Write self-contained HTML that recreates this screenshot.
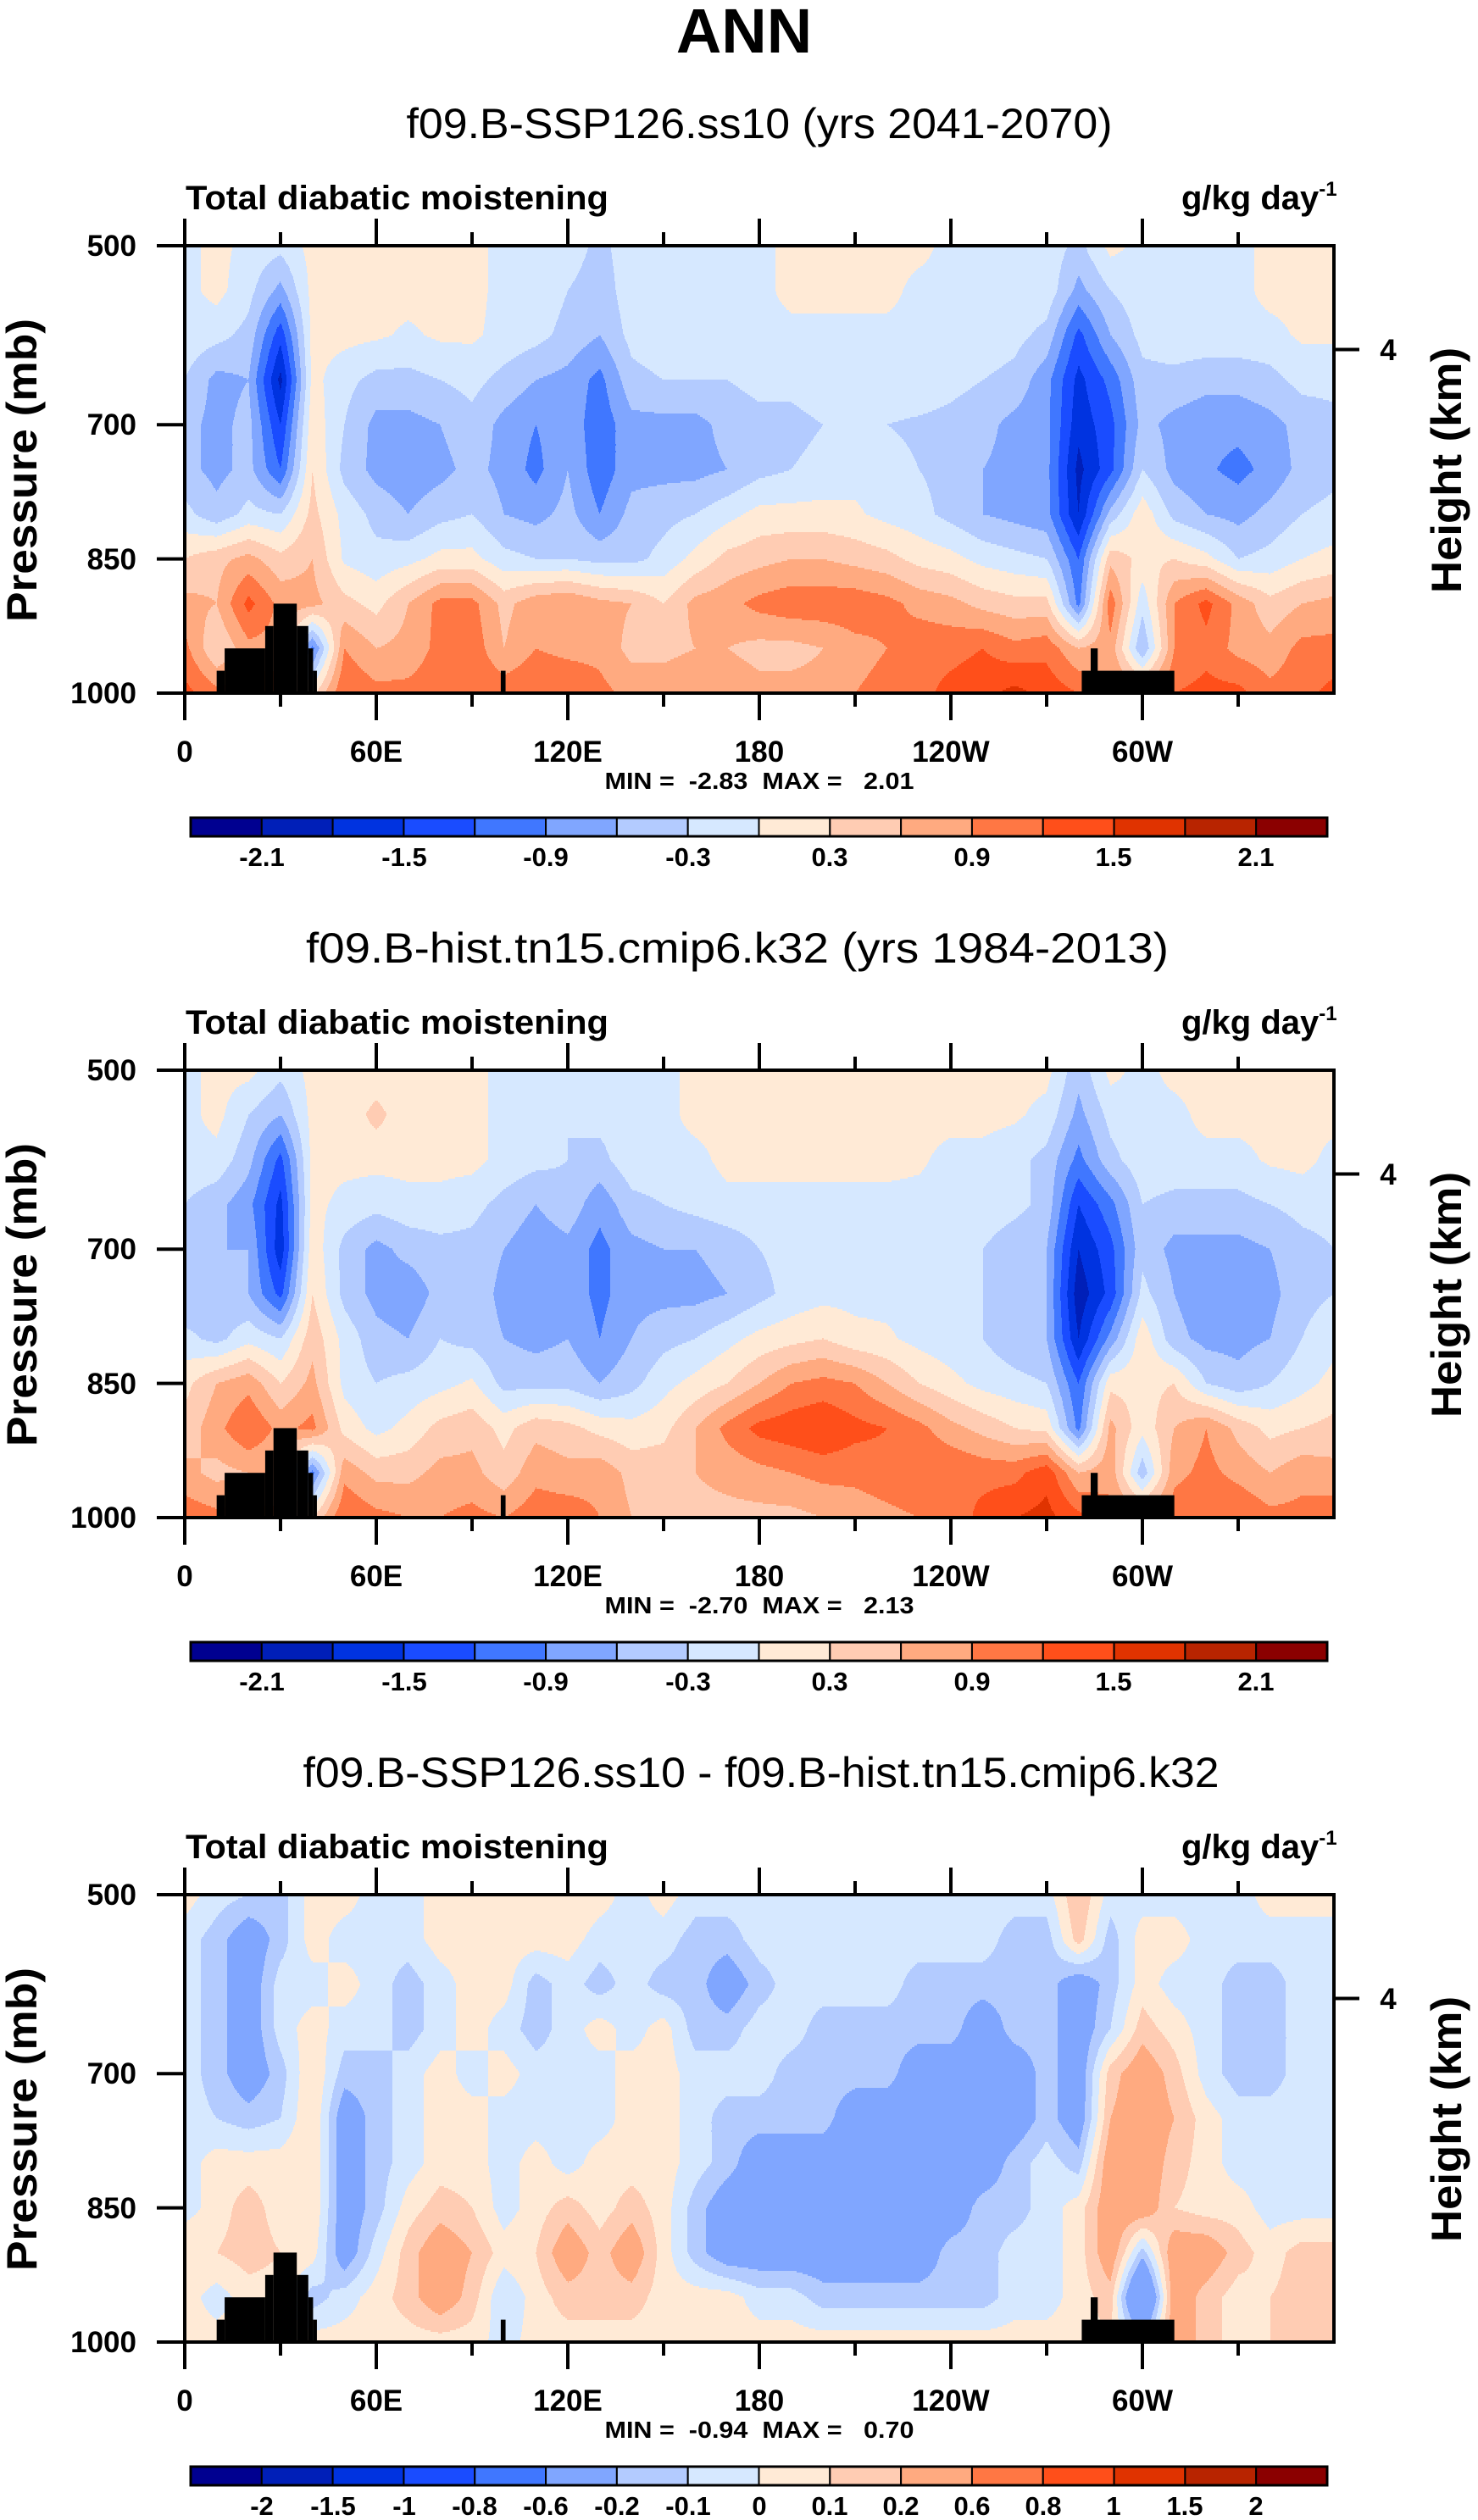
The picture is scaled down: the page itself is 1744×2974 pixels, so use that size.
<!DOCTYPE html>
<html><head><meta charset="utf-8"><title>ANN Total diabatic moistening</title>
<style>
html,body{margin:0;padding:0;background:#fff;}
svg{display:block;}
text{font-family:"Liberation Sans",Arial,sans-serif;fill:#000;}
.b{font-weight:bold;}
</style></head>
<body>
<svg id="fig" xmlns="http://www.w3.org/2000/svg" width="1744" height="2974" viewBox="0 0 1744 2974">
<rect x="0" y="0" width="1744" height="2974" fill="#fff"/>
<text x="878" y="62" font-size="74" class="b" text-anchor="middle">ANN</text>

<g id="panel0">
<text x="896" y="163" font-size="50" text-anchor="middle" textLength="833" lengthAdjust="spacingAndGlyphs">f09.B-SSP126.ss10 (yrs 2041-2070)</text>
<text x="219" y="247" font-size="40" class="b" textLength="499" lengthAdjust="spacingAndGlyphs">Total diabatic moistening</text>
<text x="1394" y="247" font-size="40" class="b">g/kg day<tspan dy="-16" font-size="24">-1</tspan></text>
<g class="field"></g>
<g class="topo"></g>
<g class="axes"></g>
<text x="161" y="302" font-size="35" class="b" text-anchor="end">500</text>
<text x="161" y="513" font-size="35" class="b" text-anchor="end">700</text>
<text x="161" y="672" font-size="35" class="b" text-anchor="end">850</text>
<text x="161" y="830" font-size="35" class="b" text-anchor="end">1000</text>
<text x="1638" y="425" font-size="35" class="b" text-anchor="middle">4</text>
<text transform="translate(43,555) rotate(-90)" font-size="50" class="b" text-anchor="middle" textLength="358" lengthAdjust="spacingAndGlyphs">Pressure (mb)</text>
<text transform="translate(1724,555) rotate(-90)" font-size="50" class="b" text-anchor="middle" textLength="290" lengthAdjust="spacingAndGlyphs">Height (km)</text>
<text x="218" y="899" font-size="35" class="b" text-anchor="middle">0</text>
<text x="444" y="899" font-size="35" class="b" text-anchor="middle">60E</text>
<text x="670" y="899" font-size="35" class="b" text-anchor="middle">120E</text>
<text x="896" y="899" font-size="35" class="b" text-anchor="middle">180</text>
<text x="1122" y="899" font-size="35" class="b" text-anchor="middle">120W</text>
<text x="1348" y="899" font-size="35" class="b" text-anchor="middle">60W</text>
<text x="896" y="931" font-size="28" class="b" text-anchor="middle" textLength="365" lengthAdjust="spacingAndGlyphs" xml:space="preserve">MIN =  -2.83  MAX =   2.01</text>
<g class="cbar"></g>
<g class="cbarlab" font-size="31">
<text x="309" y="1022" class="b" text-anchor="middle">-2.1</text>
<text x="477" y="1022" class="b" text-anchor="middle">-1.5</text>
<text x="644" y="1022" class="b" text-anchor="middle">-0.9</text>
<text x="812" y="1022" class="b" text-anchor="middle">-0.3</text>
<text x="979" y="1022" class="b" text-anchor="middle">0.3</text>
<text x="1147" y="1022" class="b" text-anchor="middle">0.9</text>
<text x="1314" y="1022" class="b" text-anchor="middle">1.5</text>
<text x="1482" y="1022" class="b" text-anchor="middle">2.1</text>
</g>
</g>

<g id="panel1" transform="translate(0,973)">
<text x="870" y="163" font-size="50" text-anchor="middle" textLength="1018" lengthAdjust="spacingAndGlyphs">f09.B-hist.tn15.cmip6.k32 (yrs 1984-2013)</text>
<text x="219" y="247" font-size="40" class="b" textLength="499" lengthAdjust="spacingAndGlyphs">Total diabatic moistening</text>
<text x="1394" y="247" font-size="40" class="b">g/kg day<tspan dy="-16" font-size="24">-1</tspan></text>
<g class="field"></g>
<g class="topo"></g>
<g class="axes"></g>
<text x="161" y="302" font-size="35" class="b" text-anchor="end">500</text>
<text x="161" y="513" font-size="35" class="b" text-anchor="end">700</text>
<text x="161" y="672" font-size="35" class="b" text-anchor="end">850</text>
<text x="161" y="830" font-size="35" class="b" text-anchor="end">1000</text>
<text x="1638" y="425" font-size="35" class="b" text-anchor="middle">4</text>
<text transform="translate(43,555) rotate(-90)" font-size="50" class="b" text-anchor="middle" textLength="358" lengthAdjust="spacingAndGlyphs">Pressure (mb)</text>
<text transform="translate(1724,555) rotate(-90)" font-size="50" class="b" text-anchor="middle" textLength="290" lengthAdjust="spacingAndGlyphs">Height (km)</text>
<text x="218" y="899" font-size="35" class="b" text-anchor="middle">0</text>
<text x="444" y="899" font-size="35" class="b" text-anchor="middle">60E</text>
<text x="670" y="899" font-size="35" class="b" text-anchor="middle">120E</text>
<text x="896" y="899" font-size="35" class="b" text-anchor="middle">180</text>
<text x="1122" y="899" font-size="35" class="b" text-anchor="middle">120W</text>
<text x="1348" y="899" font-size="35" class="b" text-anchor="middle">60W</text>
<text x="896" y="931" font-size="28" class="b" text-anchor="middle" textLength="365" lengthAdjust="spacingAndGlyphs" xml:space="preserve">MIN =  -2.70  MAX =   2.13</text>
<g class="cbar"></g>
<g class="cbarlab" font-size="31">
<text x="309" y="1022" class="b" text-anchor="middle">-2.1</text>
<text x="477" y="1022" class="b" text-anchor="middle">-1.5</text>
<text x="644" y="1022" class="b" text-anchor="middle">-0.9</text>
<text x="812" y="1022" class="b" text-anchor="middle">-0.3</text>
<text x="979" y="1022" class="b" text-anchor="middle">0.3</text>
<text x="1147" y="1022" class="b" text-anchor="middle">0.9</text>
<text x="1314" y="1022" class="b" text-anchor="middle">1.5</text>
<text x="1482" y="1022" class="b" text-anchor="middle">2.1</text>
</g>
</g>

<g id="panel2" transform="translate(0,1946)">
<text x="898" y="163" font-size="50" text-anchor="middle" textLength="1081" lengthAdjust="spacingAndGlyphs">f09.B-SSP126.ss10 - f09.B-hist.tn15.cmip6.k32</text>
<text x="219" y="247" font-size="40" class="b" textLength="499" lengthAdjust="spacingAndGlyphs">Total diabatic moistening</text>
<text x="1394" y="247" font-size="40" class="b">g/kg day<tspan dy="-16" font-size="24">-1</tspan></text>
<g class="field"></g>
<g class="topo"></g>
<g class="axes"></g>
<text x="161" y="302" font-size="35" class="b" text-anchor="end">500</text>
<text x="161" y="513" font-size="35" class="b" text-anchor="end">700</text>
<text x="161" y="672" font-size="35" class="b" text-anchor="end">850</text>
<text x="161" y="830" font-size="35" class="b" text-anchor="end">1000</text>
<text x="1638" y="425" font-size="35" class="b" text-anchor="middle">4</text>
<text transform="translate(43,555) rotate(-90)" font-size="50" class="b" text-anchor="middle" textLength="358" lengthAdjust="spacingAndGlyphs">Pressure (mb)</text>
<text transform="translate(1724,555) rotate(-90)" font-size="50" class="b" text-anchor="middle" textLength="290" lengthAdjust="spacingAndGlyphs">Height (km)</text>
<text x="218" y="899" font-size="35" class="b" text-anchor="middle">0</text>
<text x="444" y="899" font-size="35" class="b" text-anchor="middle">60E</text>
<text x="670" y="899" font-size="35" class="b" text-anchor="middle">120E</text>
<text x="896" y="899" font-size="35" class="b" text-anchor="middle">180</text>
<text x="1122" y="899" font-size="35" class="b" text-anchor="middle">120W</text>
<text x="1348" y="899" font-size="35" class="b" text-anchor="middle">60W</text>
<text x="896" y="931" font-size="28" class="b" text-anchor="middle" textLength="365" lengthAdjust="spacingAndGlyphs" xml:space="preserve">MIN =  -0.94  MAX =   0.70</text>
<g class="cbar"></g>
<g class="cbarlab" font-size="31">
<text x="309" y="1022" class="b" text-anchor="middle">-2</text>
<text x="393" y="1022" class="b" text-anchor="middle">-1.5</text>
<text x="477" y="1022" class="b" text-anchor="middle">-1</text>
<text x="560" y="1022" class="b" text-anchor="middle">-0.8</text>
<text x="644" y="1022" class="b" text-anchor="middle">-0.6</text>
<text x="728" y="1022" class="b" text-anchor="middle">-0.2</text>
<text x="812" y="1022" class="b" text-anchor="middle">-0.1</text>
<text x="896" y="1022" class="b" text-anchor="middle">0</text>
<text x="979" y="1022" class="b" text-anchor="middle">0.1</text>
<text x="1063" y="1022" class="b" text-anchor="middle">0.2</text>
<text x="1147" y="1022" class="b" text-anchor="middle">0.6</text>
<text x="1231" y="1022" class="b" text-anchor="middle">0.8</text>
<text x="1314" y="1022" class="b" text-anchor="middle">1</text>
<text x="1398" y="1022" class="b" text-anchor="middle">1.5</text>
<text x="1482" y="1022" class="b" text-anchor="middle">2</text>
</g>
</g>
</svg>

<script>
// ---- data ----
const lons = [0,10,20,30,40,50,60,70,80,90,100,110,120,130,140,150,160,170,180,190,200,210,220,230,240,250,260,270,280,290,300,310,320,330,340,350,360];
const levels = [500,550,600,650,700,750,800,850,900,950,1000];
const colors = ['#000090','#001FB8','#0033E0','#1A4CFF','#4077FF','#80A6FF','#B3CBFF','#D6E8FF','#FFEAD6','#FFCCB3','#FFAA80','#FF7744','#FF4F1A','#E03300','#B82400','#8B0000'];
const boundsAbs = [-2.1,-1.8,-1.5,-1.2,-0.9,-0.6,-0.3,0,0.3,0.6,0.9,1.2,1.5,1.8,2.1];
const boundsDiff = [-2,-1.5,-1,-0.8,-0.6,-0.2,-0.1,0,0.1,0.2,0.6,0.8,1,1.5,2];
const heightTickPressure = [616];
const pressureTicks = [500,700,850,1000];
const lonMajorTicks = [0,60,120,180,240,300];
const lonMinorTicks = [30,90,150,210,270,330];
// topography blocks: lon start, lon end, top pressure
const topoLon0 = [10,12.5,25.2,27.8,35.1,38.7,40.2,99,281,283.8];
const topoLon1 = [12.5,25.2,27.8,35.1,38.7,40.2,41.4,100.5,310,286];
const topoTop  = [975,950,925,900,925,950,975,975,975,950];

const sspField = [
[-0.1,0.1,-0.1,-0.2,0.1,0.1,0.1,0.1,0.1,0.1,-0.1,-0.1,-0.1,-0.4,-0.1,-0.1,-0.1,-0.1,-0.1,0.1,0.1,0.1,0.1,0.1,-0.1,-0.1,-0.1,-0.1,-0.4,0.1,-0.1,-0.1,-0.1,-0.1,0.1,0.1,0.1],
[-0.1,0.1,-0.2,-0.7,0.1,0.1,0.1,0.1,0.1,0.1,-0.1,-0.1,-0.3,-0.5,-0.1,-0.1,-0.1,-0.1,-0.1,0.1,0.1,0.1,0.1,-0.1,-0.1,-0.1,-0.1,-0.1,-0.7,-0.3,-0.1,-0.1,-0.1,-0.1,0.1,0.1,0.1],
[-0.1,-0.2,-0.4,-1.4,0.1,0.1,0.05,-0.05,0.05,0.05,-0.1,-0.2,-0.4,-0.6,-0.2,-0.1,-0.1,-0.1,-0.1,-0.1,-0.1,-0.1,-0.1,-0.1,-0.1,-0.1,-0.2,-0.4,-1.3,-0.6,-0.2,-0.1,-0.1,-0.1,-0.1,0.05,0.05],
[-0.3,-0.7,-0.6,-1.9,0.1,-0.2,-0.4,-0.4,-0.3,-0.2,-0.4,-0.6,-0.7,-1.0,-0.4,-0.3,-0.3,-0.3,-0.2,-0.2,-0.1,-0.1,-0.1,-0.1,-0.2,-0.3,-0.4,-0.8,-1.6,-1.1,-0.4,-0.4,-0.5,-0.5,-0.4,-0.2,-0.2],
[-0.5,-0.7,-0.5,-1.5,0.2,-0.3,-0.7,-0.7,-0.6,-0.4,-0.7,-0.9,-0.7,-1.1,-0.7,-0.7,-0.7,-0.5,-0.4,-0.4,-0.3,-0.3,-0.3,-0.35,-0.4,-0.5,-0.7,-0.8,-1.7,-1.3,-0.5,-0.7,-0.8,-0.8,-0.7,-0.5,-0.4],
[-0.5,-0.7,-0.5,-1.2,0.3,-0.4,-0.7,-0.8,-0.7,-0.5,-0.7,-1.0,-0.6,-1.1,-0.7,-0.7,-0.7,-0.6,-0.4,-0.3,-0.2,-0.1,-0.2,-0.3,-0.4,-0.6,-0.7,-0.8,-1.9,-1.3,-0.3,-0.7,-0.85,-1.0,-0.8,-0.5,-0.4],
[-0.2,-0.5,-0.2,-0.3,0.4,-0.1,-0.4,-0.6,-0.4,-0.3,-0.6,-0.7,-0.5,-0.9,-0.5,-0.4,-0.3,-0.1,0.1,0.1,0.1,0.05,-0.1,-0.2,-0.4,-0.6,-0.7,-0.8,-1.8,-0.5,0.2,-0.4,-0.6,-0.7,-0.5,-0.3,-0.2],
[0.3,0.5,0.7,0.4,0.6,-0.05,-0.2,-0.1,0.1,0.1,-0.2,-0.3,-0.3,-0.4,-0.4,-0.2,0.1,0.4,0.5,0.6,0.6,0.5,0.4,0.2,0.1,-0.1,-0.2,-0.3,-1.2,0.5,0.2,0.3,0.1,-0.3,-0.2,0.0,0.1],
[0.7,0.6,1.3,0.8,0.7,0.4,0.2,0.6,1.0,1.0,0.5,0.8,0.9,0.7,0.6,0.3,0.7,0.8,1.0,1.1,1.1,1.1,1.0,0.8,0.7,0.5,0.4,0.4,-1.0,1.1,-0.2,0.9,1.3,0.8,0.4,0.6,0.7],
[1.0,0.3,0.8,0.8,-1.0,0.9,0.6,0.7,1.0,1.1,0.6,0.9,0.8,0.8,0.5,0.5,0.6,0.6,0.5,0.5,0.6,0.8,0.9,1.1,1.1,1.2,1.0,1.1,0.6,0.8,-0.6,0.9,1.1,0.8,0.7,1.0,1.0],
[1.3,1.0,1.0,1.0,0.2,1.2,1.0,1.0,1.1,1.2,1.1,1.2,1.2,1.0,0.8,0.8,0.9,0.8,0.7,0.7,0.7,0.9,1.0,1.1,1.3,1.4,1.6,1.4,1.2,1.0,0.8,1.2,1.3,1.3,1.0,1.1,1.3]
];
const histField = [
[-0.1,0.1,0.1,-0.2,0.1,0.1,0.1,0.1,0.1,0.1,-0.1,-0.1,-0.2,-0.2,-0.1,-0.1,0.1,0.1,0.1,0.1,0.1,0.1,0.1,0.1,0.1,0.1,0.1,0.1,-0.5,0.1,-0.1,0.1,0.1,0.1,0.1,0.1,0.1],
[-0.1,0.1,-0.3,-0.6,0.1,0.1,0.4,0.1,0.1,0.1,-0.1,-0.1,-0.3,-0.2,-0.1,-0.1,0.1,0.1,0.1,0.1,0.1,0.1,0.1,0.1,0.1,0.1,0.05,-0.1,-0.7,-0.2,-0.1,-0.1,0.1,0.1,0.1,0.1,0.1],
[-0.1,-0.1,-0.5,-1.3,0.1,0.1,0.1,0.1,0.1,0.1,-0.1,-0.2,-0.3,-0.4,-0.1,-0.1,-0.1,0.1,0.1,0.1,0.1,0.1,0.1,0.05,-0.1,-0.1,-0.2,-0.4,-1.0,-0.4,-0.1,-0.1,-0.1,-0.1,0.05,0.1,-0.1],
[-0.3,-0.5,-0.8,-1.6,0.1,-0.1,-0.2,-0.1,-0.1,-0.2,-0.4,-0.6,-0.4,-0.8,-0.4,-0.3,-0.2,-0.1,-0.1,-0.1,-0.1,-0.1,-0.1,-0.1,-0.1,-0.1,-0.2,-0.4,-1.5,-1.0,-0.3,-0.4,-0.4,-0.4,-0.3,-0.2,-0.2],
[-0.6,-0.6,-0.6,-1.7,0.2,-0.4,-0.7,-0.5,-0.4,-0.4,-0.6,-0.8,-0.7,-1.0,-0.7,-0.6,-0.6,-0.5,-0.3,-0.2,-0.1,-0.1,-0.1,-0.1,-0.1,-0.3,-0.5,-0.6,-1.8,-1.3,-0.4,-0.7,-0.7,-0.7,-0.6,-0.4,-0.3],
[-0.6,-0.5,-0.6,-1.3,0.3,-0.4,-0.7,-0.8,-0.5,-0.4,-0.7,-0.9,-0.7,-1.0,-0.7,-0.7,-0.7,-0.6,-0.4,-0.2,-0.1,-0.1,-0.1,-0.1,-0.2,-0.3,-0.4,-0.6,-2.0,-1.4,-0.2,-0.6,-0.8,-0.8,-0.7,-0.4,-0.3],
[-0.2,-0.4,-0.1,-0.3,0.5,-0.1,-0.5,-0.6,-0.3,-0.4,-0.6,-0.7,-0.6,-0.9,-0.6,-0.4,-0.3,-0.1,0.1,0.2,0.3,0.1,0.05,-0.1,-0.2,-0.3,-0.5,-0.6,-1.8,-0.8,0.2,-0.5,-0.7,-0.7,-0.6,-0.3,-0.1],
[0.2,0.6,0.8,0.3,0.7,-0.1,-0.3,-0.2,-0.1,0.05,-0.4,-0.4,-0.4,-0.6,-0.4,-0.1,0.1,0.3,0.6,0.9,1.0,0.9,0.6,0.3,0.1,-0.1,-0.2,-0.3,-1.2,0.2,0.2,0.3,-0.3,-0.5,-0.3,-0.1,0.1],
[0.4,0.8,1.2,0.8,1.0,0.2,-0.1,0.1,0.4,0.5,0.2,0.5,0.4,0.2,0.1,0.2,0.6,1.0,1.3,1.4,1.5,1.3,1.2,1.0,0.7,0.5,0.3,0.2,-1.0,0.7,0.1,0.6,0.9,0.5,0.2,0.3,0.4],
[0.7,0.5,0.6,0.6,-1.0,0.8,0.5,0.5,0.7,0.7,0.4,0.8,0.7,0.8,0.5,0.5,0.6,0.7,0.8,0.9,1.0,1.0,1.1,1.2,1.2,1.1,1.1,1.4,0.6,0.8,-0.5,0.8,1.0,0.8,0.6,0.8,0.7],
[1.1,1.0,1.0,1.0,0.3,1.2,1.0,0.9,0.9,1.0,0.9,1.1,1.1,0.9,0.6,0.5,0.5,0.5,0.5,0.5,0.6,0.7,0.8,0.9,1.0,1.3,1.5,1.6,1.3,1.0,0.8,1.1,1.2,1.2,1.0,1.0,1.1]
];
const diffField = [
[0.05,-0.05,-0.1,-0.15,0.05,0.05,-0.05,-0.05,0.05,0.1,0.05,0.05,0.1,0.05,-0.05,0.05,-0.05,-0.05,-0.05,-0.05,-0.05,-0.05,-0.05,-0.05,-0.05,-0.05,-0.05,-0.05,0.2,-0.05,-0.05,-0.05,-0.05,-0.05,0.05,0.05,0.05],
[-0.05,-0.15,-0.3,-0.15,0.05,-0.05,-0.05,-0.05,0.05,0.05,0.05,0.05,0.05,-0.05,-0.05,-0.05,-0.15,-0.15,-0.05,-0.05,-0.05,-0.05,-0.05,-0.05,-0.05,-0.05,-0.15,-0.15,0.15,-0.15,0.05,0.05,-0.05,-0.05,-0.05,-0.05,-0.05],
[-0.05,-0.15,-0.3,-0.05,-0.05,0.05,-0.05,-0.15,-0.05,0.05,0.05,-0.15,-0.05,-0.15,-0.05,-0.15,-0.15,-0.3,-0.15,-0.05,-0.05,-0.05,-0.05,-0.15,-0.15,-0.15,-0.15,-0.15,-0.3,-0.15,0.05,-0.05,-0.05,-0.15,-0.15,-0.05,-0.05],
[-0.05,-0.15,-0.3,-0.05,0.05,-0.05,-0.05,-0.15,-0.05,0.05,-0.05,-0.15,-0.05,0.05,-0.05,0.05,-0.15,-0.15,-0.05,-0.05,-0.15,-0.15,-0.15,-0.15,-0.15,-0.3,-0.15,-0.15,-0.3,-0.1,0.15,0.05,-0.05,-0.15,-0.15,-0.05,-0.05],
[-0.05,-0.15,-0.3,-0.15,0.1,-0.15,-0.15,-0.05,0.05,-0.05,0.05,-0.05,-0.05,-0.05,0.05,0.05,-0.05,-0.05,-0.05,-0.15,-0.15,-0.15,-0.15,-0.3,-0.3,-0.3,-0.3,-0.15,-0.3,0.15,0.3,0.15,-0.05,-0.15,-0.15,-0.05,-0.05],
[-0.05,-0.1,-0.15,-0.1,0.1,-0.3,-0.15,-0.05,0.05,0.05,-0.05,-0.05,-0.05,-0.05,0.05,0.05,-0.05,-0.15,-0.15,-0.15,-0.15,-0.3,-0.3,-0.3,-0.3,-0.3,-0.3,-0.15,-0.3,0.2,0.3,0.2,0.05,-0.05,-0.05,-0.05,-0.05],
[-0.05,0.05,0.05,0.05,0.1,-0.3,-0.15,-0.05,0.05,0.05,-0.05,0.05,-0.05,0.05,0.05,0.05,-0.05,-0.15,-0.3,-0.3,-0.3,-0.3,-0.3,-0.3,-0.3,-0.3,-0.15,-0.05,-0.15,0.3,0.3,0.15,0.05,-0.05,-0.05,-0.05,-0.05],
[-0.05,0.05,0.15,0.05,0.1,-0.3,-0.15,0.05,0.15,0.1,-0.05,0.05,0.15,0.05,0.15,0.05,-0.15,-0.3,-0.3,-0.3,-0.3,-0.3,-0.3,-0.3,-0.3,-0.15,-0.15,-0.05,0.05,0.3,0.3,0.1,0.05,0.05,-0.05,-0.05,-0.05],
[0.1,0.1,0.15,0.1,0.05,-0.3,-0.05,0.15,0.3,0.2,0.05,0.1,0.3,0.15,0.3,0.05,-0.15,-0.3,-0.3,-0.3,-0.3,-0.3,-0.3,-0.3,-0.15,-0.15,-0.05,-0.05,0.05,0.3,-0.15,0.3,0.3,0.15,0.05,0.15,0.15],
[0.05,-0.05,0.05,0.05,-0.15,-0.05,0.05,0.15,0.3,0.15,-0.1,0.05,0.15,0.15,0.15,0.05,0.05,0.05,-0.05,-0.05,-0.15,-0.15,-0.15,-0.15,-0.15,-0.15,-0.05,-0.05,0.05,0.15,-0.6,0.3,0.15,0.05,0.1,0.15,0.15],
[0.05,0.05,0.05,0.05,0.05,0.05,0.05,0.05,0.05,0.05,-0.05,0.05,0.05,0.05,0.05,0.05,0.05,0.05,0.05,0.05,0.05,0.05,0.05,0.05,0.05,0.05,0.05,0.05,0.05,0.1,-0.15,0.3,0.15,0.05,0.1,0.15,0.1]
];

// ---- geometry ----
const NS = 'http://www.w3.org/2000/svg';
const PX0 = 218, PX1 = 1574, PY0 = 290, PY1 = 818;
const W = PX1 - PX0, H = PY1 - PY0;
function xOf(lon){ return PX0 + (lon - lons[0]) / (lons[lons.length-1] - lons[0]) * W; }
function yOf(p){ return PY0 + (p - levels[0]) / (levels[levels.length-1] - levels[0]) * H; }
function lonOf(x){ return lons[0] + (x - PX0) / W * (lons[lons.length-1] - lons[0]); }
function pOf(y){ return levels[0] + (y - PY0) / H * (levels[levels.length-1] - levels[0]); }
function mk(tag, parent){ const e = document.createElementNS(NS, tag); parent.appendChild(e); return e; }
function sampleField(field, lon, p){
  let i = 0; while (i < lons.length - 2 && lon > lons[i+1]) i++;
  let j = 0; while (j < levels.length - 2 && p > levels[j+1]) j++;
  const tx = Math.min(1, Math.max(0, (lon - lons[i]) / (lons[i+1] - lons[i])));
  const ty = Math.min(1, Math.max(0, (p - levels[j]) / (levels[j+1] - levels[j])));
  const a = field[j][i], b = field[j][i+1], c = field[j+1][i], d = field[j+1][i+1];
  return (a*(1-tx) + b*tx)*(1-ty) + (c*(1-tx) + d*tx)*ty;
}
function levelIndex(v, bounds){ let k = 0; while (k < bounds.length && v >= bounds[k]) k++; return k; }

function drawPanel(panelId, field, bounds){
  const g = document.getElementById(panelId);
  const fg = g.querySelector('.field');
  const step = 2;
  for (let y = PY0; y < PY1; y += step){
    const p = pOf(y + step/2);
    let runStart = PX0, runIdx = -1;
    for (let x = PX0; x <= PX1; x++){
      const idx = x < PX1 ? levelIndex(sampleField(field, lonOf(x + 0.5), p), bounds) : -2;
      if (idx !== runIdx){
        if (runIdx >= 0){
          const r = mk('rect', fg);
          r.setAttribute('x', runStart); r.setAttribute('y', y);
          r.setAttribute('width', x - runStart); r.setAttribute('height', step + 0.3);
          r.setAttribute('fill', colors[runIdx]);
          
          
        }
        runStart = x; runIdx = idx;
      }
    }
  }
  const tg = g.querySelector('.topo');
  for (let k = 0; k < topoLon0.length; k++){
    const r = mk('rect', tg);
    const x0 = xOf(topoLon0[k]), x1 = xOf(topoLon1[k]), y0 = yOf(topoTop[k]);
    r.setAttribute('x', x0); r.setAttribute('y', y0);
    r.setAttribute('width', x1 - x0); r.setAttribute('height', PY1 - y0);
    r.setAttribute('fill', '#000');
    
    
  }
  const ag = g.querySelector('.axes');
  function line(x1,y1,x2,y2,name){
    const l = mk('line', ag);
    l.setAttribute('x1',x1); l.setAttribute('y1',y1); l.setAttribute('x2',x2); l.setAttribute('y2',y2);
    l.setAttribute('stroke','#000'); l.setAttribute('stroke-width','4');
    
    
  }
  const fr = mk('rect', ag);
  fr.setAttribute('x', PX0); fr.setAttribute('y', PY0); fr.setAttribute('width', W); fr.setAttribute('height', H);
  fr.setAttribute('fill','none'); fr.setAttribute('stroke','#000'); fr.setAttribute('stroke-width','4');
  
  
  lonMajorTicks.forEach(l => { const x = xOf(l); line(x, PY0, x, PY0-32, 'x-major-tick'); line(x, PY1, x, PY1+32, 'x-major-tick'); });
  lonMinorTicks.forEach(l => { const x = xOf(l); line(x, PY0, x, PY0-16, 'x-minor-tick'); line(x, PY1, x, PY1+16, 'x-minor-tick'); });
  pressureTicks.forEach(p => { const y = yOf(p); line(PX0, y, PX0-33, y, 'y-tick'); });
  heightTickPressure.forEach(p => { const y = yOf(p); line(PX1, y, PX1+30, y, 'height-tick'); });
  const cg = g.querySelector('.cbar');
  const CX0 = 225, CX1 = 1566, CY0 = 965, CY1 = 987, bw = (CX1 - CX0) / colors.length;
  colors.forEach((c, k) => {
    const r = mk('rect', cg);
    r.setAttribute('x', CX0 + k*bw); r.setAttribute('y', CY0);
    r.setAttribute('width', bw); r.setAttribute('height', CY1 - CY0);
    r.setAttribute('fill', c); r.setAttribute('stroke', '#000'); r.setAttribute('stroke-width', '2');
    
    
  });
  const cf = mk('rect', cg);
  cf.setAttribute('x', CX0); cf.setAttribute('y', CY0); cf.setAttribute('width', CX1 - CX0); cf.setAttribute('height', CY1 - CY0);
  cf.setAttribute('fill','none'); cf.setAttribute('stroke','#000'); cf.setAttribute('stroke-width','3');
  
  
}
drawPanel('panel0', sspField, boundsAbs);
drawPanel('panel1', histField, boundsAbs);
drawPanel('panel2', diffField, boundsDiff);
</script>
</body></html>
